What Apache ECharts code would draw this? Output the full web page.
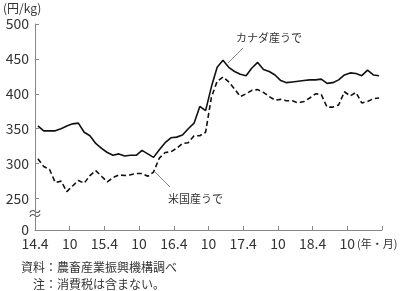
<!DOCTYPE html>
<html><head><meta charset="utf-8">
<script src="https://cdn.jsdelivr.net/npm/echarts@6/dist/echarts.min.js"></script>
<style>html,body{margin:0;padding:0;background:#fff}#c{width:400px;height:291px}</style>
</head><body><div id="c"></div>
<script>
// monthly data from 2014.4 to 2019.3 (円/kg)
const canada = [354,347,347,347,350,354,357,358,345,340, 329,322,316,312,314,311,312,312,319,314,
  309,320,330,337,338,341,350,358,382,376, 410,438,448,438,432,428,426,437,445,435,
  432,427,419,416,417,418,419,420,420,421, 415,416,420,427,430,429,426,434,427,426];
const usa = [307,296,292,273,275,260,268,276,272,283, 290,282,274,280,284,283,284,286,286,282,
  288,308,316,317,322,329,330,340,340,345, 395,418,424,417,407,396,400,405,406,402,
  396,391,392,390,390,387,389,394,400,399, 381,381,384,403,397,402,387,389,393,394];
const xTickLabels = ['14.4','10','15.4','10','16.4','10','17.4','10','18.4','10',''];
const yTicks = [205,250,300,350,400,450,500];
const yTickLabels = ['0','250','300','350','400','450','500'];
const seriesNames = ['カナダ産うで','米国産うで'];

const FONT = '"Noto Sans CJK JP", "Noto Sans", sans-serif';
const toPts = arr => arr.map((v,i)=>[i+0.5, v]);
const chart = echarts.init(document.getElementById('c'));
chart.setOption({
  animation:false,
  grid:{left:35, top:24, right:18, bottom:61},
  xAxis:{type:'value', min:0, max:60, interval:6,
    axisLine:{show:true, lineStyle:{color:'#888', width:1}},
    axisTick:{show:true, inside:true, length:4, lineStyle:{color:'#888'}},
    splitLine:{show:false},
    axisLabel:{margin:7, fontSize:14, color:'#333', fontFamily:FONT,
      formatter:v=>xTickLabels[Math.round(v/6)] ?? ''}},
  yAxis:{type:'value', min:205, max:500,
    axisLine:{show:true, lineStyle:{color:'#888', width:1}},
    axisTick:{show:true, inside:true, length:4, lineStyle:{color:'#888'}, customValues:yTicks},
    splitLine:{show:false},
    axisLabel:{margin:6, fontSize:14, color:'#333', fontFamily:FONT, customValues:yTicks,
      formatter:v=>yTickLabels[yTicks.indexOf(v)] ?? ''}},
  series:[
    {name:seriesNames[0], type:'line', data:toPts(canada), symbol:'none',
      lineStyle:{color:'#111', width:1.6}},
    {name:seriesNames[1], type:'line', data:toPts(usa), symbol:'none',
      lineStyle:{color:'#111', width:1.6, type:[5,3]}}
  ],
  graphic:[
    {type:'text', left:3, top:2, style:{text:'(円/kg)', font:'12px '+FONT, fill:'#333'}},
    {type:'text', x:35, y:213, style:{text:'≈', font:'15px '+FONT, fill:'#555', align:'center', verticalAlign:'middle'}},
    {type:'text', x:357, y:244, style:{text:'(年・月)', font:'11px '+FONT, fill:'#333', verticalAlign:'middle'}},
    {type:'text', x:236, y:38, style:{text:seriesNames[0], font:'11px '+FONT, fill:'#333', verticalAlign:'middle'}},
    {type:'line', shape:{x1:243, y1:48, x2:228, y2:63}, style:{stroke:'#666', lineWidth:0.8}},
    {type:'text', x:168, y:199, style:{text:seriesNames[1], font:'11px '+FONT, fill:'#333', verticalAlign:'middle'}},
    {type:'line', shape:{x1:155, y1:172, x2:170, y2:187}, style:{stroke:'#666', lineWidth:0.8}},
    {type:'text', x:21, y:267, style:{text:'資料：農畜産業振興機構調べ', font:'12px '+FONT, fill:'#333', verticalAlign:'middle'}},
    {type:'text', x:33, y:284, style:{text:'注：消費税は含まない。', font:'12px '+FONT, fill:'#333', verticalAlign:'middle'}}
  ]
});
</script></body></html>
